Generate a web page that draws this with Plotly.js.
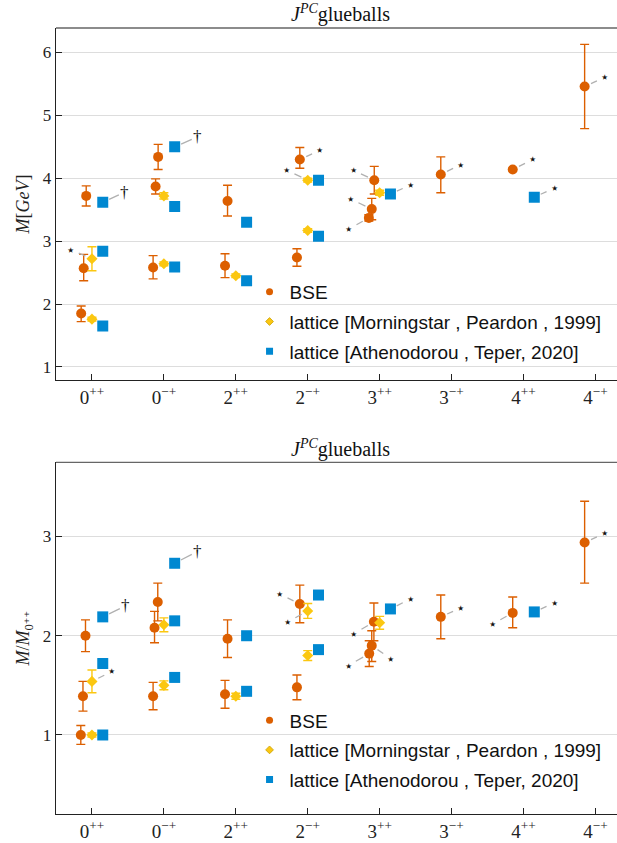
<!DOCTYPE html>
<html>
<head>
<meta charset="utf-8">
<script src="https://cdn.plot.ly/plotly-3.0.1.min.js"></script>
<style>html,body{margin:0;padding:0;background:#fff;}#chart{width:617px;height:843px;}</style>
</head>
<body>
<div id="chart"></div>
<script>
// ---------- categories ----------
const categories = ['0<sup>++</sup>','0<sup>\u2212+</sup>','2<sup>++</sup>','2<sup>\u2212+</sup>',
                    '3<sup>++</sup>','3<sup>\u2212+</sup>','4<sup>++</sup>','4<sup>\u2212+</sup>'];
const categoryIndex = [0,1,2,3,4,5,6,7];

// ---------- top panel: masses in GeV ----------
const bseMassX     = [-0.15,-0.115,-0.08, 0.85,0.885,0.92, 1.85,1.885, 2.85,2.89, 3.85,3.89,3.925, 4.85, 5.85, 6.85];
const bseMass      = [1.85,2.57,3.72, 2.58,3.87,4.34, 2.61,3.64, 2.74,4.30, 3.37,3.51,3.97, 4.06, 4.14, 5.46];
const bseMassErrUp = [0.12,0.22,0.16, 0.19,0.12,0.20, 0.19,0.25, 0.14,0.19, 0.05,0.17,0.22, 0.28, 0.00, 0.67];
const bseMassErrDn = [0.13,0.20,0.16, 0.18,0.12,0.20, 0.19,0.24, 0.14,0.14, 0.05,0.17,0.22, 0.29, 0.00, 0.67];

const mpMassX   = [0,0, 1,1, 2, 3,3, 4];
const mpMass    = [1.76,2.72, 2.64,3.72, 2.45, 3.17,3.97, 3.77];
const mpMassErr = [0.03,0.19, 0.03,0.05, 0.03, 0.03,0.03, 0.04];

const atMassX   = [0.15,0.15,0.15, 1.15,1.15,1.15, 2.15,2.15, 3.15,3.15, 4.15, 6.15];
const atMass    = [1.65,2.84,3.62, 2.59,3.55,4.50, 2.37,3.30, 3.08,3.97, 3.75, 3.70];
const atMassErr = [0.02,0.03,0.03, 0.02,0.03,0.04, 0.02,0.03, 0.03,0.03, 0.03, 0.03];

// ---------- bottom panel: M / M_0++ ----------
const bseRatioX     = [-0.155,-0.125,-0.09, 0.85,0.87,0.915, 1.85,1.885, 2.85,2.89, 3.855,3.89,3.92, 4.85, 5.85, 6.85];
const bseRatio      = [1.00,1.39,2.00, 1.39,2.08,2.34, 1.41,1.97, 1.48,2.32, 1.82,1.90,2.14, 2.19, 2.23, 2.94];
const bseRatioErrUp = [0.095,0.15,0.16, 0.14,0.165,0.19, 0.14,0.19, 0.125,0.19, 0.13,0.15,0.19, 0.22, 0.16, 0.415];
const bseRatioErrDn = [0.095,0.15,0.16, 0.135,0.15,0.19, 0.14,0.19, 0.125,0.19, 0.13,0.16,0.19, 0.22, 0.15, 0.41];

const mpRatioX   = [0,0, 1,1, 2, 3,3, 4];
const mpRatio    = [1.00,1.54, 1.50,2.11, 1.39, 1.80,2.25, 2.13];
const mpRatioErr = [0.02,0.115, 0.045,0.07, 0.03, 0.05,0.075, 0.065];

const atRatioX   = [0.15,0.15,0.15, 1.15,1.15,1.15, 2.15,2.15, 3.15,3.15, 4.15, 6.15];
const atRatio    = [1.00,1.72,2.19, 1.58,2.15,2.73, 1.44,2.00, 1.86,2.41, 2.27, 2.24];
const atRatioErr = [0.01,0.03,0.03, 0.02,0.03,0.035, 0.02,0.02, 0.02,0.03, 0.03, 0.03];

// ---------- legend names / marks ----------
const seriesNames = ['BSE','lattice [Morningstar , Peardon , 1999]','lattice [Athenodorou , Teper, 2020]'];
const noteStar = '\u22C6';
const noteDagger = '\u2020';

// notes: [series, index, symbol, dx, dy]
const topNotes = [
  ['at',2,noteDagger,22,-10], ['mp',1,noteStar,-21,-9], ['at',5,noteDagger,23,-10],
  ['bse',9,noteStar,20,-9], ['mp',6,noteStar,-21,-10], ['bse',12,noteStar,-21,-10],
  ['at',10,noteStar,20,-9], ['bse',11,noteStar,-21,-10], ['bse',10,noteStar,-20,11],
  ['bse',13,noteStar,20,-10], ['bse',14,noteStar,20,-10], ['at',11,noteStar,20,-9],
  ['bse',15,noteStar,20,-9]
];
const bottomNotes = [
  ['at',2,noteDagger,23,-11], ['at',5,noteDagger,23,-12], ['mp',1,noteStar,20,-10],
  ['bse',9,noteStar,-20,-10], ['mp',6,noteStar,-20,11], ['bse',12,noteStar,-20,12],
  ['at',10,noteStar,20,-10], ['bse',11,noteStar,19,13], ['bse',10,noteStar,-21,12],
  ['bse',13,noteStar,20,-9], ['bse',14,noteStar,-20,11], ['at',11,noteStar,20,-9],
  ['bse',15,noteStar,20,-9]
];

// ---------- styles ----------
const cBSE = '#DC5F00', cMP = '#FBC711', cAT = '#0088D1';
const serif = 'Liberation Serif, DejaVu Serif, serif';
const sans = 'Liberation Sans, Arial, sans-serif';

function errSym(arr, color){ return {type:'data', array:arr, visible:true, color:color, thickness:1.4, width:4.5}; }
function errAsym(up, dn, color){ return {type:'data', symmetric:false, array:up, arrayminus:dn, visible:true, color:color, thickness:1.4, width:4.5}; }

function panelTraces(xa, ya, bx, by, bup, bdn, mx, my, me, ax_, ay_, ae, legendId){
  const out = [];
  out.push({x:bx, y:by, xaxis:xa, yaxis:ya, type:'scatter', mode:'markers', showlegend:false,
    marker:{symbol:'circle', size:10, color:cBSE}, error_y:errAsym(bup,bdn,cBSE), hoverinfo:'skip'});
  out.push({x:mx, y:my, xaxis:xa, yaxis:ya, type:'scatter', mode:'markers', showlegend:false,
    marker:{symbol:'diamond', size:8.5, color:cMP}, error_y:errSym(me,cMP), hoverinfo:'skip'});
  out.push({x:ax_, y:ay_, xaxis:xa, yaxis:ya, type:'scatter', mode:'markers', showlegend:false,
    marker:{symbol:'square', size:11, color:cAT}, error_y:errSym(ae,cAT), hoverinfo:'skip'});
  // legend entries
  const syms = ['circle','diamond','square'], cols = [cBSE,cMP,cAT], sz=[7,6,7];
  for (let i=0;i<3;i++){
    out.push({x:[null], y:[null], xaxis:xa, yaxis:ya, type:'scatter', mode:'markers', name:seriesNames[i],
      legend:legendId, legendgroup:legendId+'g'+i,
      marker:{symbol:syms[i], size:sz[i], color:cols[i], line:{width:i===1?0.8:0, color:'#C9A000'}}});
  }
  return out;
}

const data = [].concat(
  panelTraces('x','y', bseMassX,bseMass,bseMassErrUp,bseMassErrDn, mpMassX,mpMass,mpMassErr, atMassX,atMass,atMassErr, 'legend'),
  panelTraces('x2','y2', bseRatioX,bseRatio,bseRatioErrUp,bseRatioErrDn, mpRatioX,mpRatio,mpRatioErr, atRatioX,atRatio,atRatioErr, 'legend2')
);

function notesToAnn(notes, src, xref, yref){
  return notes.map(n => {
    const s = src[n[0]];
    const isStar = n[2]===noteStar;
    return {x:s.x[n[1]], y:s.y[n[1]], xref:xref, yref:yref, text:n[2], showarrow:true,
      axref:'pixel', ayref:'pixel', ax:n[3], ay:n[4], arrowhead:0, arrowwidth:1.3, arrowcolor:'#B0B0B0',
      standoff:7, startstandoff: isStar ? 3 : 1, borderpad:0,
      font:{family: isStar ? 'DejaVu Sans, sans-serif' : serif, size: isStar ? 15 : 17, color:'#111111'}};
  });
}
const topSrc = {bse:{x:bseMassX,y:bseMass}, mp:{x:mpMassX,y:mpMass}, at:{x:atMassX,y:atMass}};
const botSrc = {bse:{x:bseRatioX,y:bseRatio}, mp:{x:mpRatioX,y:mpRatio}, at:{x:atRatioX,y:atRatio}};

const titleText = '<i>J<sup>PC</sup></i>glueballs';
const annotations = [].concat(
  notesToAnn(topNotes, topSrc, 'x', 'y'),
  notesToAnn(bottomNotes, botSrc, 'x2', 'y2'),
  [
    {text:titleText, xref:'paper', yref:'paper', x:0.507, y:1.018, xanchor:'center', yanchor:'middle', showarrow:false,
     font:{family:serif, size:20, color:'#111'}},
    {text:titleText, xref:'paper', yref:'paper', x:0.507, y:0.4654, xanchor:'center', yanchor:'middle', showarrow:false,
     font:{family:serif, size:20, color:'#111'}}
  ]
);

const xCommon = {range:[-0.5,7.3], tickmode:'array', tickvals:categoryIndex, ticktext:categories,
  ticks:'inside', ticklen:6, tickcolor:'#222', tickwidth:1, showline:true, linecolor:'#222', linewidth:1.3,
  showgrid:false, zeroline:false, tickfont:{family:serif, size:19, color:'#222'}};
const yCommon = {ticks:'inside', ticklen:6, tickcolor:'#222', tickwidth:1, showline:true, linecolor:'#222', linewidth:1.3,
  showgrid:true, gridcolor:'#DDDDDD', gridwidth:1, zeroline:false, tickfont:{family:serif, size:17, color:'#222'}};

const layout = {
  width:617, height:843,
  margin:{l:56, r:0, t:28, b:29},
  paper_bgcolor:'#fff', plot_bgcolor:'#fff',
  showlegend:true,
  xaxis: Object.assign({}, xCommon, {anchor:'y'}),
  yaxis: Object.assign({}, yCommon, {domain:[0.552,1], range:[0.79,6.39], tickvals:[1,2,3,4,5,6], anchor:'x',
    title:{text:'<i>M</i>[<i>GeV</i>]', font:{family:serif, size:18, color:'#222'}, standoff:8}}),
  xaxis2: Object.assign({}, xCommon, {anchor:'y2'}),
  yaxis2: Object.assign({}, yCommon, {domain:[0,0.4473], range:[0.204,3.746], tickvals:[1,2,3], anchor:'x2',
    title:{text:'<i>M</i>/<i>M</i><sub>0\u207A\u207A</sub>', font:{family:serif, size:18, color:'#222'}, standoff:8}}),
  legend:{x:0.345, y:0.626, xref:'paper', yref:'paper', xanchor:'left', yanchor:'middle', bgcolor:'rgba(0,0,0,0)',
    font:{family:sans, size:19, color:'#111'}, tracegroupgap:2, itemclick:false},
  legend2:{x:0.345, y:0.081, xref:'paper', yref:'paper', xanchor:'left', yanchor:'middle', bgcolor:'rgba(0,0,0,0)',
    font:{family:sans, size:19, color:'#111'}, tracegroupgap:2, itemclick:false},
  shapes:[
    {type:'line', xref:'x domain', yref:'y domain', x0:0, x1:1, y0:1, y1:1, line:{color:'#666', width:1.3}},
    {type:'line', xref:'x2 domain', yref:'y2 domain', x0:0, x1:1, y0:1, y1:1, line:{color:'#666', width:1.3}}
  ],
  annotations:annotations
};

Plotly.newPlot('chart', data, layout, {displayModeBar:false, staticPlot:true});
</script>
</body>
</html>
